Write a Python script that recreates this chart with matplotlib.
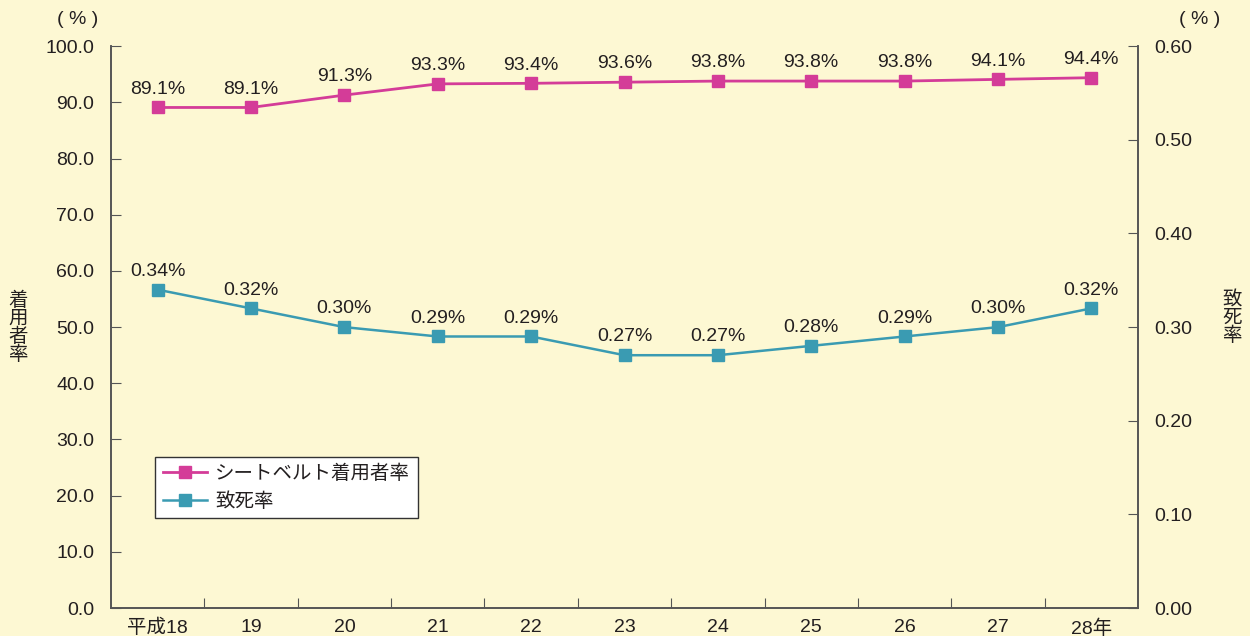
import matplotlib.pyplot as plt

plt.rcParams['font.family'] = ['Liberation Sans', 'Noto Sans CJK JP', 'DejaVu Sans']

# data
years = ['平成18', '19', '20', '21', '22', '23', '24', '25', '26', '27', '28年']
belt_rate = [89.1, 89.1, 91.3, 93.3, 93.4, 93.6, 93.8, 93.8, 93.8, 94.1, 94.4]
death_rate = [0.34, 0.32, 0.30, 0.29, 0.29, 0.27, 0.27, 0.28, 0.29, 0.30, 0.32]
left_ticks = [0, 10, 20, 30, 40, 50, 60, 70, 80, 90, 100]
right_ticks = [0.0, 0.1, 0.2, 0.3, 0.4, 0.5, 0.6]

bg = '#FDF8D3'
pink = '#D43C98'
teal = '#3A9BB2'
txt = '#231F20'
fs = 14

fig = plt.figure(figsize=(12.5, 6.36), dpi=100, facecolor=bg)
ax = fig.add_axes([0.0888, 0.044, 0.8216, 0.8833])
ax.set_facecolor(bg)
ax2 = ax.twinx()

x = list(range(len(years)))
l1, = ax.plot(x, belt_rate, color=pink, marker='s', markersize=9, linewidth=2,
              label='シートベルト着用者率')
l2, = ax2.plot(x, death_rate, color=teal, marker='s', markersize=9, linewidth=1.8,
               label='致死率')

for xi, v in zip(x, belt_rate):
    ax.annotate(f'{v:.1f}%', (xi, v), xytext=(0, 7), textcoords='offset points',
                ha='center', va='bottom', fontsize=fs, color=txt)
for xi, v in zip(x, death_rate):
    ax2.annotate(f'{v:.2f}%', (xi, v), xytext=(0, 7), textcoords='offset points',
                 ha='center', va='bottom', fontsize=fs, color=txt)

ax.set_xlim(-0.5, len(years) - 0.5)
ax.set_ylim(0, 100)
ax2.set_ylim(0, 0.6)
ax.set_yticks(left_ticks)
ax.set_yticklabels([f'{t:.1f}' for t in left_ticks], fontsize=fs, color=txt)
ax2.set_yticks(right_ticks)
ax2.set_yticklabels([f'{t:.2f}' for t in right_ticks], fontsize=fs, color=txt)

# x ticks between categories, labels at centres
ax.set_xticks([i + 0.5 for i in range(len(years) - 1)])
ax.set_xticklabels([])
ax.set_xticks(x, minor=True)
ax.set_xticklabels(years, minor=True, fontsize=fs, color=txt)
ax.tick_params(axis='x', which='minor', length=0, pad=8)
ax.tick_params(axis='x', which='major', direction='in', length=7, color='#555555')
ax.tick_params(axis='y', direction='in', length=7, color='#555555', pad=12)
ax2.tick_params(axis='y', direction='in', length=7, color='#555555', pad=12)

for a in (ax, ax2):
    a.spines['top'].set_visible(False)
    for s in ('left', 'right', 'bottom'):
        a.spines[s].set_color('#555555')
        a.spines[s].set_linewidth(1.2)

fig.text(78 / 1250, 1 - 20 / 636, '( % )', ha='center', va='center', fontsize=fs, color=txt)
fig.text(1200 / 1250, 1 - 20 / 636, '( % )', ha='center', va='center', fontsize=fs, color=txt)
fig.text(18 / 1250, 1 - 328 / 636, '着\n用\n者\n率', ha='center', va='center',
         fontsize=fs, color=txt, linespacing=1.0)
fig.text(1232 / 1250, 1 - 318 / 636, '致\n死\n率', ha='center', va='center',
         fontsize=fs, color=txt, linespacing=1.0)

leg = ax.legend(handles=[l1, l2], loc='upper left', bbox_to_anchor=(0.0428, 0.2687),
                borderaxespad=0, fontsize=fs, frameon=True, fancybox=False,
                handlelength=2.3, handletextpad=0.4, borderpad=0.4, labelspacing=0.45)
leg.get_frame().set_edgecolor('#333333')
leg.get_frame().set_facecolor('white')
leg.get_frame().set_alpha(1)
for t in leg.get_texts():
    t.set_color(txt)

plt.savefig('out.png', dpi=100, facecolor=bg)
